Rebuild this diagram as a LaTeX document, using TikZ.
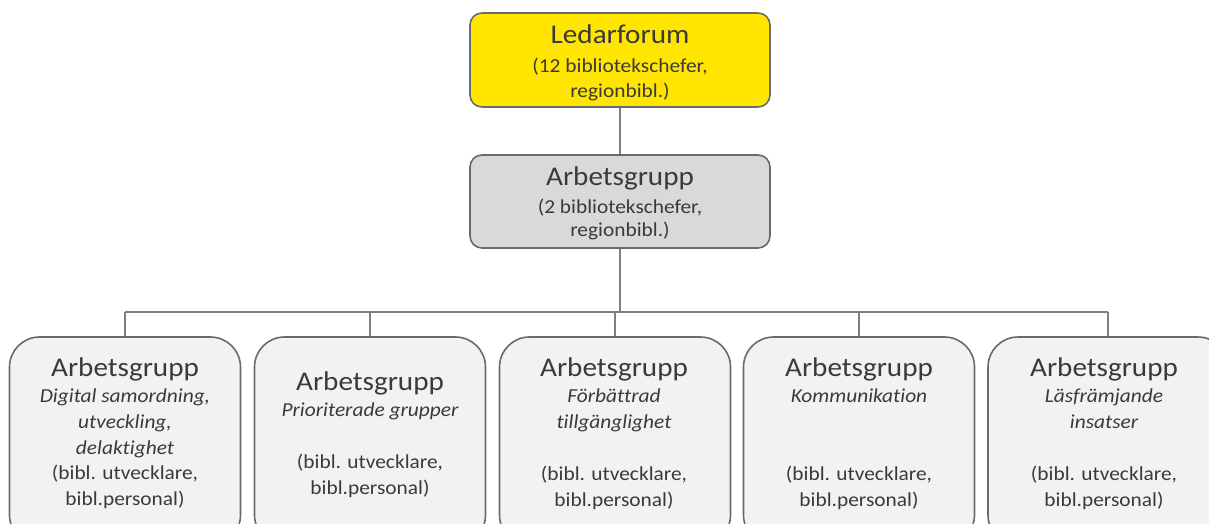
\documentclass[tikz,border=0pt]{standalone}
\usepackage{fontspec}
\setmainfont{Carlito}[FakeStretch=1.08, Ligatures=NoCommon]
\definecolor{txt}{HTML}{3A3A3A}
\definecolor{edge}{HTML}{6A6A6A}
\definecolor{lnk}{HTML}{7F7F7F}
\definecolor{yel}{HTML}{FFE500}
\definecolor{gbox}{HTML}{D9D9D9}
\definecolor{lbox}{HTML}{F2F2F2}
\begin{document}
\begin{tikzpicture}[x=1pt,y=-1pt,
  box/.style={draw=edge, line width=1.6pt, rounded corners=12pt, inner sep=0pt},
  sbox/.style={draw=edge, line width=1.6pt, rounded corners=30pt, fill=lbox, inner sep=0pt, minimum width=231pt, minimum height=208pt},
  link/.style={draw=lnk, line width=2.5pt},
  big/.style={text=txt, font=\fontsize{27}{30}\selectfont, inner sep=0pt, anchor=base},
  small/.style={text=txt, font=\fontsize{19.8}{26}\selectfont, inner sep=0pt, anchor=base},
  ital/.style={text=txt, font=\fontsize{19.8}{26}\selectfont\itshape, inner sep=0pt, anchor=base}]
\useasboundingbox (0,0) rectangle (1209,523);
\clip (0,0) rectangle (1209,523);
% top boxes
\node[box, fill=yel, minimum width=300pt, minimum height=94pt] (lf) at (620,60) {};
\node[box, fill=gbox, minimum width=300pt, minimum height=93pt] (ag) at (620,201.5) {};
% bottom boxes
\node[sbox] (b1) at (125,441) {};
\node[sbox] (b2) at (370,441) {};
\node[sbox] (b3) at (615,441) {};
\node[sbox] (b4) at (859,441) {};
\node[sbox, minimum width=240pt] (b5) at (1108,441) {};
% connectors
\coordinate (busL) at (125,312);
\coordinate (busR) at (1108,312);
\draw[link] (lf.south) -- (ag.north);
\draw[link] (ag.south) -- (ag.south |- busL);
\draw[link] (busL) -- (busR);
\draw[link] (b1.north) -- (b1.north |- busL);
\draw[link] (b2.north) -- (b2.north |- busL);
\draw[link] (b3.north) -- (b3.north |- busL);
\draw[link] (b4.north) -- (b4.north |- busL);
\draw[link] (b5.north) -- (b5.north |- busL);
% texts top
\node[big] (lft) at (620,43) {Ledarforum};
\node[small] (lfs1) at (620,72) {(12 bibliotekschefer,};
\node[small] (lfs2) at (620,97) {regionbibl.)};
\node[big] (agt) at (620,185) {Arbetsgrupp};
\node[small] (ags1) at (620,213) {(2 bibliotekschefer,};
\node[small] (ags2) at (620,236) {regionbibl.)};
% box 1
\node[big] (b1t) at (125,376) {Arbetsgrupp};
\node[ital] (b1a) at (125,402) {Digital samordning,};
\node[ital] (b1b) at (125,428) {utveckling,};
\node[ital] (b1c) at (125,454) {delaktighet};
\node[small] (b1d) at (125,479) {(bibl. utvecklare,};
\node[small] (b1e) at (125,505) {bibl.personal)};
% box 2
\node[big] (b2t) at (370,390) {Arbetsgrupp};
\node[ital] (b2a) at (370,416) {Prioriterade grupper};
\node[small] (b2d) at (370,468) {(bibl. utvecklare,};
\node[small] (b2e) at (370,494) {bibl.personal)};
% box 3
\node[big] (b3t) at (614,376) {Arbetsgrupp};
\node[ital] (b3a) at (614,402) {Förbättrad};
\node[ital] (b3b) at (614,428) {tillgänglighet};
\node[small] (b3d) at (614,480) {(bibl. utvecklare,};
\node[small] (b3e) at (614,506) {bibl.personal)};
% box 4
\node[big] (b4t) at (859,376) {Arbetsgrupp};
\node[ital] (b4a) at (859,402) {Kommunikation};
\node[small] (b4d) at (859,480) {(bibl. utvecklare,};
\node[small] (b4e) at (859,506) {bibl.personal)};
% box 5
\node[big] (b5t) at (1104,376) {Arbetsgrupp};
\node[ital] (b5a) at (1104,402) {Läsfrämjande};
\node[ital] (b5b) at (1104,428) {insatser};
\node[small] (b5d) at (1104,480) {(bibl. utvecklare,};
\node[small] (b5e) at (1104,506) {bibl.personal)};
\end{tikzpicture}
\end{document}
